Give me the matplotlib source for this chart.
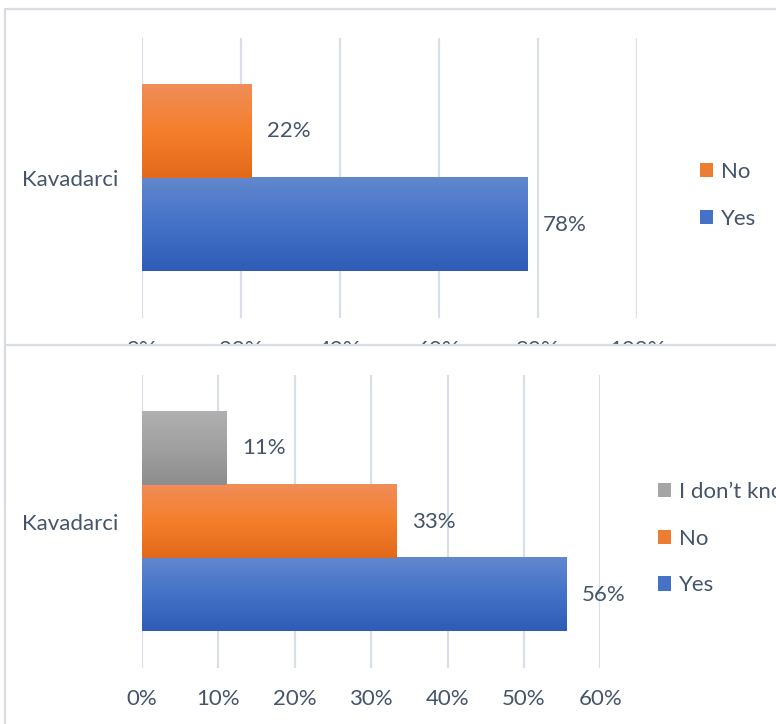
import numpy as np
import matplotlib
matplotlib.use("Agg")
import matplotlib.pyplot as plt
from matplotlib.patches import Patch, Rectangle
from matplotlib.colors import LinearSegmentedColormap

plt.rcParams['font.family'] = ['Lato', 'DejaVu Sans']

# ---- data ----
category = "Kavadarci"
top_series = ["Yes", "No"]
top_values = [77.8, 22.2]
top_labels = ["78%", "22%"]
top_ticks = [0, 20, 40, 60, 80, 100]

bottom_series = ["Yes", "No", "I don\u2019t know"]
bottom_values = [55.6, 33.3, 11.1]
bottom_labels = ["56%", "33%", "11%"]
bottom_ticks = [0, 10, 20, 30, 40, 50, 60]

# ---- style ----
TEXT = "#44546a"
GRID = "#d9dee7"
FRAME = "#d9dde3"
gradients = {
    "Yes": ["#6188ce", "#4472c8", "#2e5cb6"],
    "No": ["#f08d58", "#f47f2b", "#e2691a"],
    "I don\u2019t know": ["#b0b0b0", "#a0a0a0", "#8d8d8d"],
}
solid = {"Yes": "#4472c4", "No": "#ed7d31", "I don\u2019t know": "#a5a5a5"}
FS = 16

W, H = 776, 724
fig = plt.figure(figsize=(W / 100, H / 100), dpi=100)
fig.patch.set_facecolor("white")


def px(x0, y0, x1, y1):
    """pixel box (top-left origin) -> figure fraction rect"""
    return [x0 / W, 1 - y1 / H, (x1 - x0) / W, (y1 - y0) / H]


# panel frames
fig.add_artist(Rectangle((5 / W, 0.3), 1.2, (1 - 9 / H) - 0.3, transform=fig.transFigure,
                         facecolor="white", edgecolor=FRAME, linewidth=1.6, zorder=-1))
fig.add_artist(Rectangle((5 / W, -0.2), 1.2, (1 - 345 / H) + 0.2, transform=fig.transFigure,
                         facecolor="white", edgecolor=FRAME, linewidth=1.6, zorder=1))


def draw_chart(ax, series, values, labels, ticks, xmax, center, half, xpad):
    ax.set_facecolor("none")
    for i, (s, v, lab) in enumerate(zip(series, values, labels)):
        cmap = LinearSegmentedColormap.from_list(s, gradients[s][::-1])
        grad = np.linspace(0, 1, 100).reshape(-1, 1)
        ax.imshow(grad, cmap=cmap, origin="lower", aspect="auto",
                  extent=(0, v, i - 0.5, i + 0.5), zorder=3, interpolation="bilinear")
        ax.annotate(lab, (v, i), xytext=(11, 0), textcoords="offset points",
                    va="center", ha="left", fontsize=FS, color=TEXT)
    ax.set_xlim(0, xmax)
    ax.set_ylim(center - half, center + half)
    ax.set_xticks(ticks)
    ax.set_xticklabels([f"{t}%" for t in ticks], fontsize=FS, color=TEXT)
    ax.set_yticks([center])
    ax.set_yticklabels([category], fontsize=FS, color=TEXT)
    ax.tick_params(axis="both", length=0)
    ax.tick_params(axis="y", pad=17)
    ax.tick_params(axis="x", pad=xpad)
    ax.grid(axis="x", color=GRID, linewidth=1.6, zorder=0)
    ax.set_axisbelow(True)
    for sp in ax.spines.values():
        sp.set_visible(False)
    handles = [Patch(facecolor=solid[s], edgecolor="none") for s in series[::-1]]
    return handles


leg_kw = dict(loc="upper left", bbox_transform=fig.transFigure, frameon=False,
              fontsize=FS, labelcolor=TEXT, handlelength=0.6, handleheight=0.6,
              handletextpad=0.35, labelspacing=1.2, borderpad=0, borderaxespad=0)

# top chart
ax1 = fig.add_axes(px(142, 38, 637, 318))
ax1.set_zorder(0)
h1 = draw_chart(ax1, top_series, top_values, top_labels, top_ticks, 100, 0.5, 1.505, 15.5)
ax1.legend(h1, top_series[::-1], bbox_to_anchor=(700 / W, 1 - 162 / H), **leg_kw)

# bottom chart
ax2 = fig.add_axes(px(142, 375, 600.4, 668))
ax2.set_zorder(2)
h2 = draw_chart(ax2, bottom_series, bottom_values, bottom_labels, bottom_ticks, 60, 1, 2.0, 15)
ax2.legend(h2, bottom_series[::-1], bbox_to_anchor=(658 / W, 1 - 482 / H), **leg_kw)

fig.savefig("out.png", dpi=100, facecolor="white")
